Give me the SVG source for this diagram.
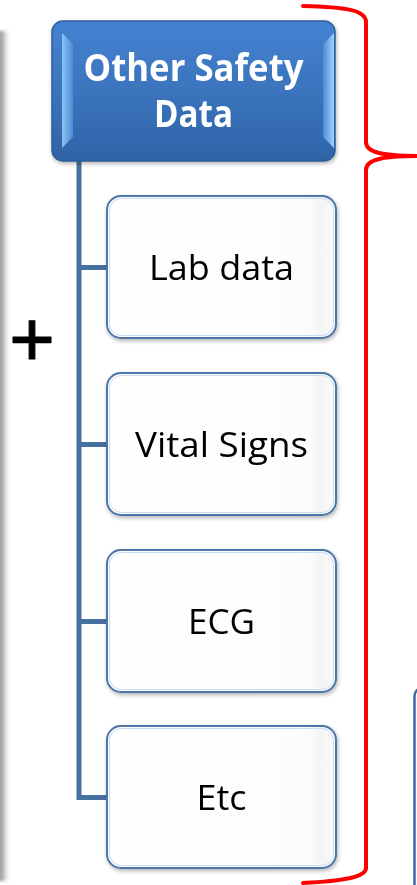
<svg xmlns="http://www.w3.org/2000/svg" width="417" height="885" viewBox="0 0 417 885">
  <style>
    .child-box { fill: url(#childFill); stroke: #4d76a9; stroke-width: 2; }
    .child-inner { fill: none; stroke: #c9dcf0; stroke-width: 1; }
    .child-label { font-family: "Open Sans", "Liberation Sans", sans-serif; font-size: 34px; fill: #000000; text-anchor: middle; }
    .head-label { font-family: "Open Sans", "Liberation Sans", sans-serif; font-size: 37px; font-weight: bold; fill: #ffffff; text-anchor: middle; }
    .connector { fill: none; stroke: #45709f; stroke-width: 5; stroke-linejoin: miter; }
    .brace { fill: none; stroke: #ff0000; stroke-width: 4; stroke-linecap: round; stroke-linejoin: round; }
  </style>
  <defs>
    <linearGradient id="headFill" x1="0" y1="0" x2="0" y2="1">
      <stop offset="0" stop-color="#4482d2"/>
      <stop offset="0.5" stop-color="#3b74bd"/>
      <stop offset="1" stop-color="#2f64a7"/>
    </linearGradient>
    <linearGradient id="bevelLeft" x1="0" y1="0" x2="1" y2="0">
      <stop offset="0" stop-color="#8cc4f5"/>
      <stop offset="1" stop-color="#4d8ad6"/>
    </linearGradient>
    <linearGradient id="bevelRight" x1="1" y1="0" x2="0" y2="0">
      <stop offset="0" stop-color="#9cd2fb"/>
      <stop offset="1" stop-color="#4d8ad6"/>
    </linearGradient>
    <linearGradient id="childFill" x1="0" y1="0" x2="1" y2="0">
      <stop offset="0" stop-color="#ffffff"/>
      <stop offset="0.88" stop-color="#fcfcfc"/>
      <stop offset="0.94" stop-color="#f4f4f4"/>
      <stop offset="1" stop-color="#fcfcfc"/>
    </linearGradient>
    <linearGradient id="edgeShade" x1="0" y1="0" x2="1" y2="0">
      <stop offset="0" stop-color="#8f8f8f"/>
      <stop offset="0.4" stop-color="#b5b5b5"/>
      <stop offset="1" stop-color="#ffffff" stop-opacity="0"/>
    </linearGradient>
    <filter id="soft" x="-20%" y="-5%" width="140%" height="110%">
      <feGaussianBlur stdDeviation="1.5"/>
    </filter>
    <filter id="shadow" x="-10%" y="-10%" width="125%" height="125%">
      <feGaussianBlur in="SourceAlpha" stdDeviation="2"/>
      <feOffset dx="1" dy="2" result="b"/>
      <feComponentTransfer><feFuncA type="linear" slope="0.3"/></feComponentTransfer>
      <feMerge><feMergeNode/><feMergeNode in="SourceGraphic"/></feMerge>
    </filter>
  </defs>

  <rect width="417" height="885" fill="#ffffff"/>

  <!-- shaded strip along the left edge -->
  <rect x="-2" y="31" width="13" height="850" fill="url(#edgeShade)" filter="url(#soft)"/>

  <!-- plus sign -->
  <text x="32" y="366" font-family="Liberation Sans, sans-serif" font-size="78" text-anchor="middle" fill="#000000" stroke="#000000" stroke-width="1.2" stroke-linejoin="round">+</text>

  <!-- tree connectors -->
  <g id="connectors">
    <path class="connector" d="M79,160 L79,797.5 L108,797.5"/>
    <path class="connector" d="M79,267.5 L108,267.5"/>
    <path class="connector" d="M79,444.5 L108,444.5"/>
    <path class="connector" d="M79,621.5 L108,621.5"/>
  </g>

  <!-- header node -->
  <g id="node-header" filter="url(#shadow)">
    <rect x="52" y="21" width="283" height="140" rx="11" fill="url(#headFill)" stroke="#2d5e9c" stroke-width="1.5"/>
    <polygon points="62,33 73,44 73,137 62,148" fill="url(#bevelLeft)"/>
    <polygon points="334,33 323,44 323,137 334,148" fill="url(#bevelRight)"/>
    <text class="head-label" x="193.5" y="81" textLength="220" lengthAdjust="spacingAndGlyphs">Other Safety</text>
    <text class="head-label" x="193.5" y="127" textLength="79" lengthAdjust="spacingAndGlyphs">Data</text>
  </g>

  <!-- child nodes -->
  <g id="node-lab" filter="url(#shadow)">
    <rect class="child-box" x="107" y="196" width="229" height="142" rx="14"/>
    <rect class="child-inner" x="109.5" y="198.5" width="224" height="137" rx="12"/>
    <text class="child-label" x="221.5" y="280" textLength="145" lengthAdjust="spacingAndGlyphs">Lab data</text>
  </g>
  <g id="node-vitals" filter="url(#shadow)">
    <rect class="child-box" x="107" y="373" width="229" height="142" rx="14"/>
    <rect class="child-inner" x="109.5" y="375.5" width="224" height="137" rx="12"/>
    <text class="child-label" x="221.5" y="457" textLength="173" lengthAdjust="spacingAndGlyphs">Vital Signs</text>
  </g>
  <g id="node-ecg" filter="url(#shadow)">
    <rect class="child-box" x="107" y="550" width="229" height="142" rx="14"/>
    <rect class="child-inner" x="109.5" y="552.5" width="224" height="137" rx="12"/>
    <text class="child-label" x="221.5" y="634" textLength="67" lengthAdjust="spacingAndGlyphs">ECG</text>
  </g>
  <g id="node-etc" filter="url(#shadow)">
    <rect class="child-box" x="107" y="726" width="229" height="142" rx="14"/>
    <rect class="child-inner" x="109.5" y="728.5" width="224" height="137" rx="12"/>
    <text class="child-label" x="221.5" y="810" textLength="50" lengthAdjust="spacingAndGlyphs">Etc</text>
  </g>

  <!-- right curly brace -->
  <path class="brace" d="M303,6 C345,7 366,10 366,22 L366,142 C366,152 380,156 420,156 C380,156 366,160 366,170 L366,868 C366,877 345,881 303,883"/>

  <!-- edge of a neighbouring box, partly off the right side -->
  <g id="node-right-edge">
    <rect x="414.5" y="688" width="30" height="220" rx="8" fill="#f7f9fc" stroke="#3f689c" stroke-width="2.5"/>
  </g>
</svg>
